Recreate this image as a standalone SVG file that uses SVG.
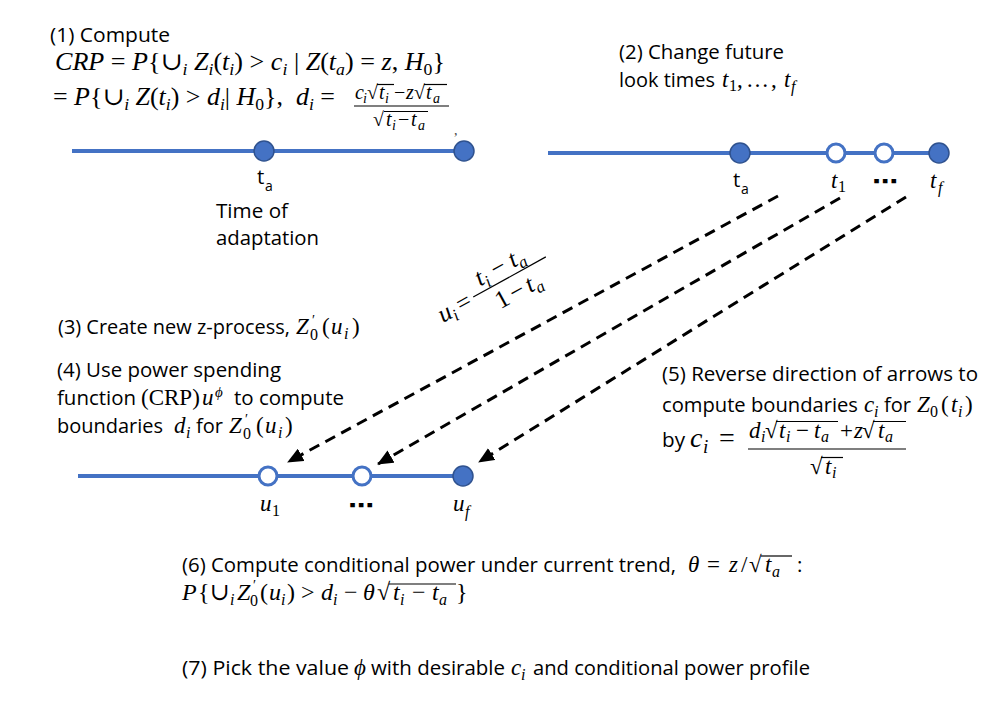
<svg xmlns="http://www.w3.org/2000/svg" width="1007" height="724" viewBox="0 0 1007 724">
<defs>
<style>
.s{font-family:"Open Sans","Liberation Sans",sans-serif;font-size:20.5px;fill:#000}
.m{font-family:"Liberation Serif","DejaVu Serif",serif;font-size:23px;fill:#000}
.m25{font-size:25px}
.i{font-style:italic}
.sb{font-size:16px}
.sb17{font-size:17px}
.sb14{font-size:14px}
.pr{font-size:14px}
.ln{stroke:#4472C4;stroke-width:4;fill:none}
.dot{fill:#4472C4;stroke:#2F528F;stroke-width:1.5}
.odot{fill:#fff;stroke:#4472C4;stroke-width:3}
.ar{stroke:#000;stroke-width:3;stroke-dasharray:11 7;fill:none;marker-end:url(#ah)}
.ol{stroke:#000;stroke-width:1.2;fill:none}
.dots{font-family:"DejaVu Sans",sans-serif;font-weight:bold;font-size:22px}
</style>
<marker id="ah" markerUnits="userSpaceOnUse" markerWidth="16" markerHeight="14" refX="15" refY="7" orient="auto"><path d="M0,0 L16,7 L0,14 z" fill="#000"/></marker>
</defs>
<rect width="1007" height="724" fill="#fff"/>

<g id="step1">
<text class="s" x="50" y="42" textLength="120" lengthAdjust="spacingAndGlyphs">(1) Compute</text>
<text class="m m25" x="55" y="70" textLength="390" lengthAdjust="spacingAndGlyphs"><tspan class="i">CRP</tspan> = <tspan class="i">P</tspan>{∪<tspan class="i sb17" dy="5">i</tspan><tspan class="i" dy="-5"> Z</tspan><tspan class="i sb17" dy="5">i</tspan><tspan dy="-5">(</tspan><tspan class="i">t</tspan><tspan class="i sb17" dy="5">i</tspan><tspan dy="-5">) &gt; </tspan><tspan class="i">c</tspan><tspan class="i sb17" dy="5">i</tspan><tspan dy="-5"> | </tspan><tspan class="i">Z</tspan>(<tspan class="i">t</tspan><tspan class="i sb17" dy="5">a</tspan><tspan dy="-5">) = </tspan><tspan class="i">z</tspan>, <tspan class="i">H</tspan><tspan class="sb17" dy="5">0</tspan><tspan dy="-5">}</tspan></text>
<text class="m m25" x="53" y="105" textLength="282" lengthAdjust="spacingAndGlyphs">= <tspan class="i">P</tspan>{∪<tspan class="i sb17" dy="5">i</tspan><tspan class="i" dy="-5"> Z</tspan>(<tspan class="i">t</tspan><tspan class="i sb17" dy="5">i</tspan><tspan dy="-5">) &gt; </tspan><tspan class="i">d</tspan><tspan class="i sb17" dy="5">i</tspan><tspan dy="-5">| </tspan><tspan class="i">H</tspan><tspan class="sb17" dy="5">0</tspan><tspan dy="-5">},&#160; </tspan><tspan class="i">d</tspan><tspan class="i sb17" dy="5">i</tspan><tspan dy="-5"> =</tspan></text>
<text class="m" style="font-size:20px"><tspan class="i" x="355" y="99">c</tspan><tspan class="i sb14" x="363" y="103">i</tspan><tspan x="367" y="99">√</tspan><tspan class="i" x="379" y="99">t</tspan><tspan class="i sb14" x="385" y="103">i</tspan><tspan x="394" y="99">−</tspan><tspan class="i" x="406" y="99">z</tspan><tspan x="414" y="99">√</tspan><tspan class="i" x="426" y="99">t</tspan><tspan class="i sb14" x="433" y="103">a</tspan><tspan x="373" y="126">√</tspan><tspan class="i" x="386" y="126">t</tspan><tspan class="i sb14" x="392" y="130">i</tspan><tspan x="398" y="126">−</tspan><tspan class="i" x="411" y="126">t</tspan><tspan class="i sb14" x="418" y="130">a</tspan></text>
<line class="ol" x1="377" y1="84.5" x2="394" y2="84.5"/>
<line class="ol" x1="424" y1="84.5" x2="447" y2="84.5"/>
<line class="ol" x1="354" y1="106" x2="449" y2="106"/>
<line class="ol" x1="384" y1="111.5" x2="428" y2="111.5"/>
<text class="m" x="454" y="135" style="font-size:14px;fill:#444">,</text>
</g>

<g id="timeline-top-left">
<line class="ln" x1="72" y1="151" x2="464" y2="151"/>
<circle class="dot" cx="264" cy="151" r="10"/>
<circle class="dot" cx="464" cy="151" r="10"/>
<text class="s" x="257" y="184">t<tspan class="sb14" x="265" y="191">a</tspan></text>
<text class="s" x="216" y="218" textLength="72" lengthAdjust="spacingAndGlyphs">Time of</text>
<text class="s" x="216" y="245" textLength="103" lengthAdjust="spacingAndGlyphs">adaptation</text>
</g>

<g id="step2">
<text class="s" x="619" y="59" textLength="165" lengthAdjust="spacingAndGlyphs">(2) Change future</text>
<text class="s" x="619" y="87" textLength="96" lengthAdjust="spacingAndGlyphs">look times</text>
<text class="m"><tspan class="i" x="722" y="87">t</tspan><tspan class="sb" x="729" y="91">1</tspan><tspan x="737" y="87">,</tspan><tspan x="746" y="87">…</tspan><tspan x="771" y="87">,</tspan><tspan class="i" x="784" y="87">t</tspan><tspan class="i sb" x="791" y="92">f</tspan></text>
</g>

<g id="timeline-top-right">
<line class="ln" x1="548" y1="153" x2="939" y2="153"/>
<circle class="dot" cx="740" cy="153" r="10"/>
<circle class="odot" cx="836" cy="153" r="9"/>
<circle class="odot" cx="884" cy="153" r="9"/>
<circle class="dot" cx="939" cy="153" r="10"/>
<text class="s" x="733" y="187">t<tspan class="sb14" x="741" y="194">a</tspan></text>
<text class="m"><tspan class="i" x="831" y="188">t</tspan><tspan class="sb" x="838" y="192">1</tspan><tspan class="i" x="930" y="188">t</tspan><tspan class="i sb" x="938" y="193">f</tspan></text>
<text class="dots" x="872" y="189" textLength="26" lengthAdjust="spacingAndGlyphs">⋯</text>
</g>

<g id="connectors">
<line class="ar" x1="778" y1="196" x2="288" y2="462"/>
<line class="ar" x1="840" y1="198" x2="378" y2="464"/>
<line class="ar" x1="906" y1="197" x2="479" y2="462"/>
<g id="mapping-label" transform="translate(443,323) rotate(-29)">
<text class="m m25"><tspan class="i" x="0" y="0">u</tspan><tspan class="i sb17" x="12.5" y="5">i</tspan><tspan x="21" y="0">=</tspan><tspan class="i" x="50" y="-14">t</tspan><tspan class="i sb17" x="57" y="-9">i</tspan><tspan x="68" y="-14">−</tspan><tspan class="i" x="88" y="-14">t</tspan><tspan class="i sb17" x="95" y="-9">a</tspan><tspan x="57" y="16">1</tspan><tspan x="73" y="16">−</tspan><tspan class="i" x="91" y="16">t</tspan><tspan class="i sb17" x="98" y="21">a</tspan></text>
<line class="ol" x1="39" y1="-8" x2="122" y2="-8"/>
</g>
</g>

<g id="step3">
<text class="s" x="58" y="334" textLength="232" lengthAdjust="spacingAndGlyphs">(3) Create new z-process,</text>
<text class="m"><tspan class="i" x="296" y="334">Z</tspan><tspan class="pr" x="312" y="325">′</tspan><tspan class="sb" x="310" y="340">0</tspan><tspan x="322" y="334">(</tspan><tspan class="i" x="331" y="334">u</tspan><tspan class="i sb" x="344" y="339">i</tspan><tspan x="352" y="334">)</tspan></text>
</g>

<g id="step4">
<text class="s" x="57" y="377" textLength="224" lengthAdjust="spacingAndGlyphs">(4) Use power spending</text>
<text class="s" x="57" y="405" textLength="79" lengthAdjust="spacingAndGlyphs">function</text>
<text class="m"><tspan x="141" y="405">(CRP)</tspan><tspan class="i" x="202" y="405">u</tspan><tspan class="i" style="font-size:15px" x="215" y="397">ϕ</tspan></text>
<text class="s" x="234" y="405" textLength="110" lengthAdjust="spacingAndGlyphs">to compute</text>
<text class="s" x="57" y="433" textLength="106" lengthAdjust="spacingAndGlyphs">boundaries</text>
<text class="m"><tspan class="i" x="174" y="433">d</tspan><tspan class="i sb" x="186" y="438">i</tspan></text>
<text class="s" x="196" y="433" textLength="27" lengthAdjust="spacingAndGlyphs">for</text>
<text class="m"><tspan class="i" x="229" y="433">Z</tspan><tspan class="pr" x="245" y="424">′</tspan><tspan class="sb" x="243" y="439">0</tspan><tspan x="256" y="433">(</tspan><tspan class="i" x="265" y="433">u</tspan><tspan class="i sb" x="278" y="438">i</tspan><tspan x="285" y="433">)</tspan></text>
</g>

<g id="timeline-bottom">
<line class="ln" x1="78" y1="476" x2="463" y2="476"/>
<circle class="odot" cx="268" cy="476" r="9"/>
<circle class="odot" cx="362" cy="476" r="9"/>
<circle class="dot" cx="463" cy="476" r="10"/>
<text class="m"><tspan class="i" x="260" y="511">u</tspan><tspan class="sb" x="272" y="516">1</tspan><tspan class="i" x="453" y="511">u</tspan><tspan class="i sb" x="465" y="517">f</tspan></text>
<text class="dots" x="348" y="513" textLength="26" lengthAdjust="spacingAndGlyphs">⋯</text>
</g>

<g id="step5">
<text class="s" x="662" y="381" textLength="316" lengthAdjust="spacingAndGlyphs">(5) Reverse direction of arrows to</text>
<text class="s" x="662" y="412" textLength="196" lengthAdjust="spacingAndGlyphs">compute boundaries</text>
<text class="m"><tspan class="i" x="864" y="412">c</tspan><tspan class="i sb" x="874" y="417">i</tspan></text>
<text class="s" x="884" y="412" textLength="27" lengthAdjust="spacingAndGlyphs">for</text>
<text class="m"><tspan class="i" x="917" y="412">Z</tspan><tspan class="sb" x="930" y="417">0</tspan><tspan x="941" y="412">(</tspan><tspan class="i" x="951" y="412">t</tspan><tspan class="i sb" x="958" y="417">i</tspan><tspan x="965" y="412">)</tspan></text>
<text class="s" x="662" y="447" textLength="23" lengthAdjust="spacingAndGlyphs">by</text>
<text class="m" style="font-size:28px"><tspan class="i" x="690" y="447">c</tspan><tspan class="i" style="font-size:19px" x="703" y="453">i</tspan><tspan x="719" y="447">=</tspan></text>
<text class="m"><tspan class="i" x="749" y="438">d</tspan><tspan class="i sb" x="761" y="442">i</tspan><tspan x="765" y="438">√</tspan><tspan class="i" x="779" y="438">t</tspan><tspan class="i sb" x="786" y="442">i</tspan><tspan x="796" y="438">−</tspan><tspan class="i" x="814" y="438">t</tspan><tspan class="i sb" x="821" y="442">a</tspan><tspan x="840" y="438">+</tspan><tspan class="i" x="854" y="438">z</tspan><tspan x="862" y="438">√</tspan><tspan class="i" x="878" y="438">t</tspan><tspan class="i sb" x="885" y="442">a</tspan><tspan x="810" y="474">√</tspan><tspan class="i" x="825" y="474">t</tspan><tspan class="i sb" x="832" y="478">i</tspan></text>
<line class="ol" x1="776" y1="421.5" x2="838" y2="421.5"/>
<line class="ol" x1="873" y1="421.5" x2="906" y2="421.5"/>
<line class="ol" x1="748" y1="449" x2="906" y2="449"/>
<line class="ol" x1="821" y1="457.5" x2="843" y2="457.5"/>
</g>

<g id="step6">
<text class="s" x="182" y="572" textLength="494" lengthAdjust="spacingAndGlyphs">(6) Compute conditional power under current trend,</text>
<text class="m"><tspan class="i" x="688" y="572">θ</tspan><tspan x="707" y="572">=</tspan><tspan class="i" x="729" y="572">z</tspan><tspan x="741" y="572">/</tspan><tspan x="749" y="572">√</tspan><tspan class="i" x="765" y="572">t</tspan><tspan class="i sb" x="772" y="577">a</tspan></text>
<line class="ol" x1="761" y1="556" x2="792" y2="556"/>
<text class="s" x="797" y="572">:</text>
<text class="m" style="font-size:24px"><tspan class="i" x="182" y="600">P</tspan><tspan x="198" y="600">{</tspan><tspan x="210" y="600">∪</tspan><tspan class="i sb" x="230" y="605">i</tspan><tspan class="i" x="237" y="600">Z</tspan><tspan class="pr" x="253" y="590">′</tspan><tspan class="sb" x="250" y="606">0</tspan><tspan x="260" y="600">(</tspan><tspan class="i" x="269" y="600">u</tspan><tspan class="i sb" x="281" y="605">i</tspan><tspan x="287" y="600">)</tspan><tspan x="301" y="600">&gt;</tspan><tspan class="i" x="321" y="600">d</tspan><tspan class="i sb" x="333" y="605">i</tspan><tspan x="344" y="600">−</tspan><tspan class="i" x="363" y="600">θ</tspan><tspan x="377" y="600">√</tspan><tspan class="i" x="393" y="600">t</tspan><tspan class="i sb" x="400" y="605">i</tspan><tspan x="412" y="600">−</tspan><tspan class="i" x="432" y="600">t</tspan><tspan class="i sb" x="439" y="605">a</tspan><tspan x="456" y="600">}</tspan></text>
<line class="ol" x1="389" y1="584" x2="456" y2="584"/>
</g>

<g id="step7">
<text class="s" x="182" y="675" textLength="167" lengthAdjust="spacingAndGlyphs">(7) Pick the value</text>
<text class="m i" x="354" y="675">ϕ</text>
<text class="s" x="371" y="675" textLength="134" lengthAdjust="spacingAndGlyphs">with desirable</text>
<text class="m"><tspan class="i" x="511" y="675">c</tspan><tspan class="i sb" x="521" y="680">i</tspan></text>
<text class="s" x="533" y="675" textLength="277" lengthAdjust="spacingAndGlyphs">and conditional power profile</text>
</g>
</svg>
